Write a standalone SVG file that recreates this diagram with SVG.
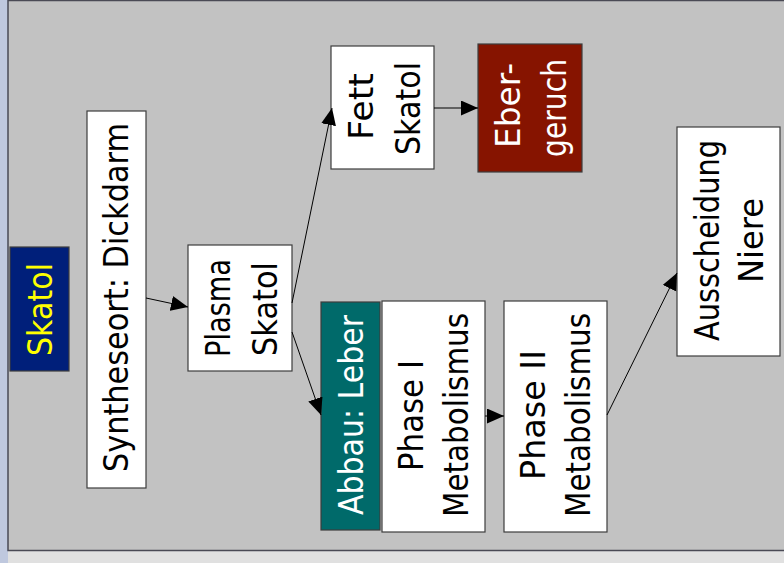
<svg xmlns="http://www.w3.org/2000/svg" width="784" height="563" viewBox="0 0 784 563">
<style>
  .box { stroke: #3c3c3c; stroke-width: 1.2; }
  .white { fill: #ffffff; }
  .t { font-family: "DejaVu Sans", "Liberation Sans", sans-serif; font-size: 33px; text-anchor: middle; fill: #000000; }
  .lt { fill: #ffffff; }
  .yl { fill: #ffff00; }
  .conn { stroke: #000000; stroke-width: 1; fill: none; marker-end: url(#ah); }
</style>
<defs>
  <marker id="ah" markerUnits="userSpaceOnUse" markerWidth="18" markerHeight="16" refX="17" refY="7.5" orient="auto">
    <path d="M0,0 L17,7.5 L0,15 z" fill="#000000"/>
  </marker>
</defs>
<rect x="0" y="0" width="784" height="563" fill="#e0e0e0"/>
<rect x="0" y="0" width="8" height="563" fill="#bfc8de"/>
<rect x="8" y="0.5" width="790" height="550" fill="#c2c2c2" stroke="#4a4a55" stroke-width="1.5"/>

<g id="skatol">
  <rect class="box" x="10" y="247" width="59" height="124" fill="#001f7a"/>
  <text class="t yl" transform="translate(52,309.5) rotate(-90)" textLength="93" lengthAdjust="spacingAndGlyphs">Skatol</text>
</g>
<g id="synthese">
  <rect class="box white" x="87" y="111" width="59" height="377"/>
  <text class="t" transform="translate(128,297.5) rotate(-90)" textLength="349" lengthAdjust="spacingAndGlyphs">Syntheseort: Dickdarm</text>
</g>
<g id="plasma">
  <rect class="box white" x="188" y="245" width="104" height="126"/>
  <text class="t" transform="translate(230,308) rotate(-90)" textLength="98" lengthAdjust="spacingAndGlyphs">Plasma</text>
  <text class="t" transform="translate(277,309) rotate(-90)" textLength="94" lengthAdjust="spacingAndGlyphs">Skatol</text>
</g>
<g id="fett">
  <rect class="box white" x="331" y="46" width="103" height="123"/>
  <text class="t" transform="translate(373,106.5) rotate(-90)" textLength="67" lengthAdjust="spacingAndGlyphs">Fett</text>
  <text class="t" transform="translate(420,108.5) rotate(-90)" textLength="93" lengthAdjust="spacingAndGlyphs">Skatol</text>
</g>
<g id="ebergeruch">
  <rect class="box" x="478" y="44" width="104" height="128" fill="#861400"/>
  <text class="t lt" transform="translate(520,105.5) rotate(-90)" textLength="85" lengthAdjust="spacingAndGlyphs">Eber-</text>
  <text class="t lt" transform="translate(566,108) rotate(-90)" textLength="98" lengthAdjust="spacingAndGlyphs">geruch</text>
</g>
<g id="abbau">
  <rect class="box" x="321" y="302" width="59" height="228" fill="#006a6a"/>
  <text class="t lt" transform="translate(363,415) rotate(-90)" textLength="200" lengthAdjust="spacingAndGlyphs">Abbau: Leber</text>
</g>
<g id="phase1">
  <rect class="box white" x="382" y="301" width="103" height="231"/>
  <text class="t" transform="translate(423,415.5) rotate(-90)" textLength="111" lengthAdjust="spacingAndGlyphs">Phase I</text>
  <text class="t" transform="translate(468,415) rotate(-90)" textLength="204" lengthAdjust="spacingAndGlyphs">Metabolismus</text>
</g>
<g id="phase2">
  <rect class="box white" x="504" y="301" width="103" height="231"/>
  <text class="t" transform="translate(545,415) rotate(-90)" textLength="130" lengthAdjust="spacingAndGlyphs">Phase II</text>
  <text class="t" transform="translate(590,415) rotate(-90)" textLength="204" lengthAdjust="spacingAndGlyphs">Metabolismus</text>
</g>
<g id="ausscheidung">
  <rect class="box white" x="677" y="127" width="103" height="229"/>
  <text class="t" transform="translate(719,240.5) rotate(-90)" textLength="201" lengthAdjust="spacingAndGlyphs">Ausscheidung</text>
  <text class="t" transform="translate(763,240.5) rotate(-90)" textLength="85" lengthAdjust="spacingAndGlyphs">Niere</text>
</g>

<g id="connectors">
  <line class="conn" x1="146" y1="298" x2="188" y2="307"/>
  <line class="conn" x1="292" y1="303" x2="332" y2="108"/>
  <line class="conn" x1="434" y1="108" x2="478" y2="108"/>
  <line class="conn" x1="292" y1="332" x2="321" y2="415"/>
  <line class="conn" x1="485" y1="416" x2="504" y2="416"/>
  <line class="conn" x1="607" y1="415" x2="677" y2="273"/>
</g>
</svg>
